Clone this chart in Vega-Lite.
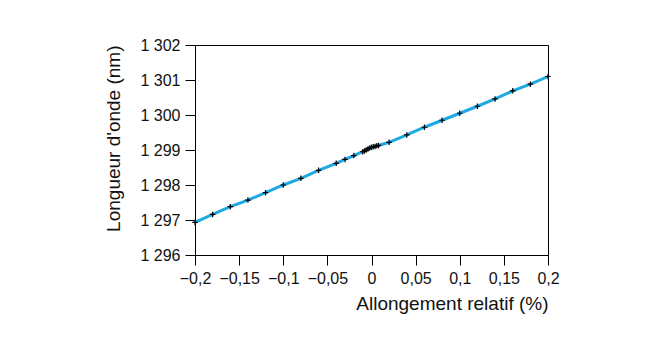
{
  "$schema": "https://vega.github.io/schema/vega-lite/v6.json",
  "width": 353,
  "height": 210,
  "autosize": {"type": "none"},
  "padding": {"left": 195, "top": 45, "right": 100, "bottom": 82},
  "background": "white",
  "config": {
    "view": {"stroke": "#000000", "strokeWidth": 1},
    "font": "Liberation Sans",
    "axis": {
      "grid": false,
      "domainColor": "#000000",
      "tickColor": "#000000",
      "tickSize": 10,
      "labelFontSize": 16,
      "labelColor": "#111111",
      "titleFontSize": 19,
      "titleFontWeight": "normal",
      "titleColor": "#111111",
      "labelFont": "Liberation Sans",
      "titleFont": "Liberation Sans"
    }
  },
  "data": {
    "values": [
      {"x": -0.2, "y": 1296.93},
      {"x": -0.18, "y": 1297.16},
      {"x": -0.16, "y": 1297.38},
      {"x": -0.14, "y": 1297.57},
      {"x": -0.12, "y": 1297.78},
      {"x": -0.1, "y": 1298.0},
      {"x": -0.08, "y": 1298.19},
      {"x": -0.06, "y": 1298.42},
      {"x": -0.04, "y": 1298.62},
      {"x": -0.03, "y": 1298.73},
      {"x": -0.02, "y": 1298.84},
      {"x": -0.01, "y": 1298.95},
      {"x": -0.008, "y": 1298.97},
      {"x": -0.006, "y": 1299.0},
      {"x": -0.004, "y": 1299.03},
      {"x": -0.002, "y": 1299.06},
      {"x": 0.0, "y": 1299.08},
      {"x": 0.002, "y": 1299.09},
      {"x": 0.004, "y": 1299.1},
      {"x": 0.006, "y": 1299.12},
      {"x": 0.008, "y": 1299.13},
      {"x": 0.02, "y": 1299.22},
      {"x": 0.04, "y": 1299.43},
      {"x": 0.06, "y": 1299.65},
      {"x": 0.08, "y": 1299.85},
      {"x": 0.1, "y": 1300.05},
      {"x": 0.12, "y": 1300.25},
      {"x": 0.14, "y": 1300.46},
      {"x": 0.16, "y": 1300.69},
      {"x": 0.18, "y": 1300.88},
      {"x": 0.2, "y": 1301.1}
    ]
  },
  "encoding": {
    "x": {
      "field": "x",
      "type": "quantitative",
      "scale": {"domain": [-0.2, 0.2], "nice": false, "zero": false},
      "axis": {
        "title": "Allongement relatif (%)",
        "values": [-0.2, -0.15, -0.1, -0.05, 0, 0.05, 0.1, 0.15, 0.2],
        "labelExpr": "replace(format(datum.value, '.2~f'), '.', ',')",
        "labelPadding": 5,
        "titleAnchor": "end",
        "titlePadding": 8,
        "labelFlush": false
      }
    },
    "y": {
      "field": "y",
      "type": "quantitative",
      "scale": {"domain": [1296, 1302], "nice": false, "zero": false},
      "axis": {
        "title": "Longueur d'onde (nm)",
        "values": [1296, 1297, 1298, 1299, 1300, 1301, 1302],
        "labelExpr": "replace(format(datum.value, ',d'), ',', ' ')",
        "labelPadding": 5,
        "titleAnchor": "end",
        "titlePadding": 16,
        "labelFlush": false
      }
    }
  },
  "layer": [
    {
      "mark": {"type": "line", "color": "#1fa9e3", "strokeWidth": 3}
    },
    {
      "mark": {
        "type": "point",
        "shape": "M-1,0L1,0M0,-1L0,1",
        "filled": false,
        "stroke": "#000000",
        "strokeWidth": 1.2,
        "size": 30,
        "opacity": 1
      }
    }
  ]
}
